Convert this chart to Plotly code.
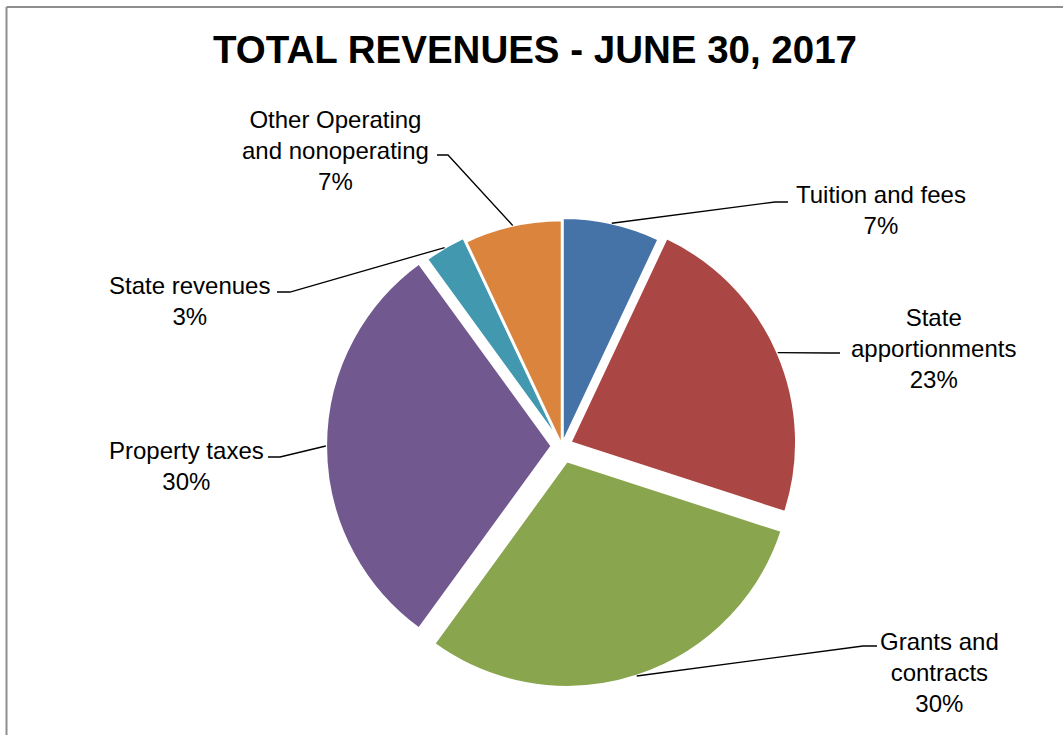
import math
import plotly.graph_objects as go

# ---- data ----
categories = ["Tuition and fees", "State apportionments", "Grants and contracts",
              "Property taxes", "State revenues", "Other Operating and nonoperating"]
label_text = ["Tuition and fees", "State<br>apportionments", "Grants and<br>contracts",
              "Property taxes", "State revenues", "Other Operating<br>and nonoperating"]
values = [7, 23, 30, 30, 3, 7]
colors = ["#4572A7", "#AA4643", "#89A54E", "#71588F", "#4198AF", "#DB843D"]
pulls = [0.01, 0.04, 0.07, 0.045, 0.02, 0.0]

# ---- layout constants (pixels) ----
W, H = 1063, 735
CX, CY, R = 562, 446, 226
maxpull = max(pulls)
half = R * (1 + maxpull)
dom_x = [(CX - half) / W, (CX + half) / W]
dom_y = [1 - (CY + half) / H, 1 - (CY - half) / H]

# label centres and leader elbows (label end, elbow)
label_pos = [(881, 210), (933, 348), (939, 672), (186, 466), (189, 301), (335, 150)]
leader_pts = [((788, 202), (775, 202)), ((840, 353), (830, 353)), ((877, 646), (863, 646)),
              ((268, 457), (280, 457)), ((277, 292), (290, 292)), ((437, 155), (448, 155))]


def px(x, y):
    return x / W, 1 - y / H


fig = go.Figure(go.Pie(
    labels=categories, values=values, sort=False, direction="clockwise", rotation=0,
    pull=pulls, marker=dict(colors=colors, line=dict(color="white", width=2.5)),
    textinfo="none", hoverinfo="label+percent", showlegend=False,
    domain=dict(x=dom_x, y=dom_y),
))

total = sum(values)
shapes = []
annotations = []
cum = 0
for i, v in enumerate(values):
    mid = (cum + v / 2) / total * 2 * math.pi
    cum += v
    rr = R * (1 + pulls[i])
    ax, ay = CX + rr * math.sin(mid), CY - rr * math.cos(mid)
    (x0, y0), (x1, y1) = leader_pts[i]
    p0, p1, p2 = px(x0, y0), px(x1, y1), px(ax, ay)
    shapes.append(dict(type="path", xref="paper", yref="paper",
                       path=f"M {p0[0]},{p0[1]} L {p1[0]},{p1[1]} L {p2[0]},{p2[1]}",
                       line=dict(color="black", width=1.3)))
    lx, ly = px(*label_pos[i])
    annotations.append(dict(x=lx, y=ly, xref="paper", yref="paper",
                            text=f"{label_text[i]}<br>{round(v / total * 100)}%",
                            showarrow=False, xanchor="center", yanchor="middle",
                            font=dict(family="Liberation Sans, Arial, sans-serif",
                                      size=24, color="black")))

# chart frame (left and top edges)
shapes.append(dict(type="line", xref="paper", yref="paper", x0=6.5 / W, x1=6.5 / W,
                   y0=0, y1=1 - 7 / H, line=dict(color="#8E8E8E", width=2)))
shapes.append(dict(type="line", xref="paper", yref="paper", x0=6.5 / W, x1=1,
                   y0=1 - 7 / H, y1=1 - 7 / H, line=dict(color="#8E8E8E", width=2)))

fig.update_layout(
    width=W, height=H, margin=dict(l=0, r=0, t=0, b=0),
    paper_bgcolor="white", plot_bgcolor="white",
    title=dict(text="<b>TOTAL REVENUES - JUNE 30, 2017</b>", x=535 / W, y=1 - 50 / H,
               xanchor="center", yanchor="middle",
               font=dict(family="Liberation Sans, Arial, sans-serif", size=38.5, color="black")),
    shapes=shapes, annotations=annotations,
)

fig.write_html("out.html", config={"displayModeBar": False},
               post_script="document.body.style.margin='0px';")
